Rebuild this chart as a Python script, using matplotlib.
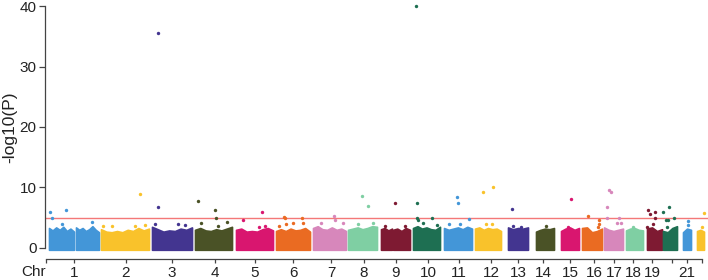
import matplotlib
matplotlib.use("Agg")
import matplotlib.pyplot as plt
import numpy as np

plt.rcParams['font.family'] = ['Liberation Sans', 'DejaVu Sans']

# ---- data (x in cumulative genome position units, y = -log10(P)) ----
palette = ['#4396d8', '#f9c22b', '#433590', '#4a5226', '#d9166f',
           '#ea6b22', '#d787bb', '#7fcfa3', '#7e1a32', '#1e6f52']

chroms = list(range(1, 23))

# dense SNP mass per chromosome: (start, end, upper envelope values)
blocks = {
    1: [(3, 28, [3.3, 2.9, 3.4, 3.0, 3.5, 2.8, 3.2, 2.7]),
        (30, 53, [3.4, 3.0, 3.3, 2.8, 3.1, 3.6, 3.0, 2.6])],
    2: [(55, 103, [3.1, 2.7, 2.6, 2.8, 2.6, 3.0, 2.8, 3.3, 2.9, 3.2])],
    3: [(106, 146, [3.5, 3.1, 2.7, 2.9, 2.8, 3.2, 3.0, 3.4])],
    4: [(149, 186, [3.0, 3.3, 2.9, 2.8, 3.1, 2.9, 3.2, 3.5])],
    5: [(190, 227, [3.0, 3.2, 2.7, 2.8, 2.7, 3.1, 3.3, 2.9])],
    6: [(230, 264, [2.8, 3.1, 2.8, 3.2, 2.9, 3.0, 3.3, 2.7])],
    7: [(267, 300, [3.3, 3.6, 3.1, 3.0, 3.4, 3.0, 3.2, 2.8])],
    8: [(302, 331, [3.0, 3.2, 3.4, 3.1, 3.3, 3.6, 3.5])],
    9: [(335, 346, [3.1, 3.3, 2.9, 3.2]),
        (347, 364, [3.0, 3.2, 2.8, 3.3, 3.0])],
    10: [(367, 394, [3.3, 3.6, 3.2, 3.4, 3.1, 3.0, 3.5])],
    11: [(398, 426, [3.3, 3.0, 3.2, 3.4, 3.1, 3.5, 3.2])],
    12: [(429, 455, [3.2, 3.4, 3.0, 3.3, 3.1, 3.2, 2.8])],
    13: [(462, 482, [3.4, 3.1, 3.3, 3.2, 3.4])],
    14: [(490, 508, [2.7, 3.0, 3.2, 3.1, 3.3])],
    15: [(515, 533, [2.8, 3.2, 3.4, 3.0, 3.3])],
    16: [(536, 556, [3.3, 3.4, 2.6, 2.8, 3.2])],
    17: [(558, 577, [3.4, 3.0, 2.8, 3.0, 3.2])],
    18: [(580, 597, [2.9, 3.2, 3.3, 3.0, 2.9])],
    19: [(601, 616, [3.2, 3.4, 2.8, 3.1])],
    20: [(617, 631, [2.8, 2.6, 3.3, 3.6])],
    21: [(637, 645, [2.6, 3.2, 3.0])],
    22: [(651, 658, [2.8, 3.0, 2.7])],
}

# individual SNPs standing out above the mass
snps = {
    1: [(4, 5.9), (6, 5.0), (20, 6.2), (15.7, 4.0), (45.7, 4.35)],
    2: [(94, 8.9), (57, 3.7), (66, 3.6), (89, 3.7), (99, 3.8)],
    3: [(112.3, 35.5), (111.7, 6.8), (132, 4.0), (109, 3.9), (139, 3.8)],
    4: [(151.7, 7.7), (169, 6.3), (170, 5.0), (155, 4.2), (180.7, 4.3), (172, 3.6)],
    5: [(197, 4.7), (216, 6.0), (213, 3.5), (219, 3.6)],
    6: [(238.3, 5.2), (239, 5.0), (255.7, 5.0), (256.7, 4.2), (247.3, 4.1),
        (239.7, 4.0), (233.3, 3.7)],
    7: [(288, 5.3), (288.5, 4.6), (274.7, 4.1), (297.3, 4.2)],
    8: [(316.3, 8.6), (321.5, 6.95), (327, 4.1), (312, 3.9)],
    9: [(349, 7.4), (339, 3.7), (359, 3.6)],
    10: [(370, 40.0), (371.3, 7.5), (370.7, 5.0), (386.3, 4.9), (371.7, 4.6),
         (377.3, 4.1), (391.3, 3.8)],
    11: [(410.7, 8.5), (412.3, 7.5), (423.3, 4.85), (414, 3.9), (403, 3.9)],
    12: [(437.3, 9.25), (447.3, 10.0), (440, 3.9), (446.3, 3.9)],
    13: [(465.7, 6.4), (467, 3.6), (474.7, 3.5)],
    14: [(500, 3.7)],
    15: [(524.5, 8.1), (522.3, 3.5)],
    16: [(542.3, 5.3), (552.5, 4.6), (552.5, 4.0), (551.5, 3.5)],
    17: [(563, 9.55), (564.7, 9.2), (560.7, 6.85), (561.3, 5.0), (573, 5.0),
         (571, 4.15), (574.5, 4.15)],
    18: [(587.3, 3.5)],
    19: [(602.3, 6.3), (609, 6.0), (604.3, 5.6), (608.5, 4.9), (606.7, 3.9), (601.3, 3.5)],
    20: [(623.3, 6.8), (617.3, 5.9), (619.7, 4.6), (621.7, 4.7), (628.3, 5.0), (621.3, 3.4)],
    21: [(642.3, 4.5), (641.7, 3.8)],
    22: [(658.3, 5.85), (655.7, 3.5)],
}

tick_pos = [28, 80, 126, 169, 209, 247, 285, 318, 350, 382, 413, 445,
            472, 497, 524, 548, 568, 587, 606, 626, 641, 656]
tick_lab = ['1', '2', '3', '4', '5', '6', '7', '8', '9', '10', '11', '12',
            '13', '14', '15', '16', '17', '18', '19', '', '21', '']

threshold = 5.0

# ---- figure ----
fig = plt.figure(figsize=(7.08, 2.8), dpi=100)
ax = fig.add_axes([45 / 708, 29 / 280, 663 / 708, 248 / 280])

for c in chroms:
    col = palette[(c - 1) % len(palette)]
    for (s, e, env) in blocks[c]:
        xs = np.linspace(s, e, len(env))
        ax.fill_between(xs, -0.3, env, color=col, linewidth=1.2, edgecolor=col,
                        zorder=2)
    pts = np.array(snps[c])
    ax.scatter(pts[:, 0], pts[:, 1], s=6, color=col, linewidths=0, zorder=3)

ax.axhline(threshold, color='#f47878', lw=1.0, zorder=1)

ax.set_xlim(-1, 662)
ax.set_ylim(-0.5, 40.5)

for side in ['top', 'right']:
    ax.spines[side].set_visible(False)
spine_col = '#444444'
ax.spines['left'].set_bounds(0, 40)
ax.spines['left'].set_color(spine_col)
ax.spines['left'].set_linewidth(0.9)
ax.spines['bottom'].set_position(('outward', 5.8))
ax.spines['bottom'].set_bounds(0, 656)
ax.spines['bottom'].set_color(spine_col)
ax.spines['bottom'].set_linewidth(0.9)

ax.set_yticks([0, 10, 20, 30, 40])
ax.set_xticks([0] + tick_pos)
ax.set_xticklabels([''] + tick_lab)
ax.tick_params(axis='y', length=4, width=0.9, color=spine_col, pad=2,
               labelsize=11, labelcolor='#222222')
ax.tick_params(axis='x', length=3, width=0.9, color=spine_col, pad=2,
               labelsize=11, labelcolor='#222222')

ax.set_ylabel('-log10(P)', fontsize=12.5, color='#222222', labelpad=2)
fig.text(34 / 708, 1 - 272 / 280, 'Chr', ha='center', va='center',
         fontsize=11, color='#222222')

fig.savefig('out.png', dpi=100)
